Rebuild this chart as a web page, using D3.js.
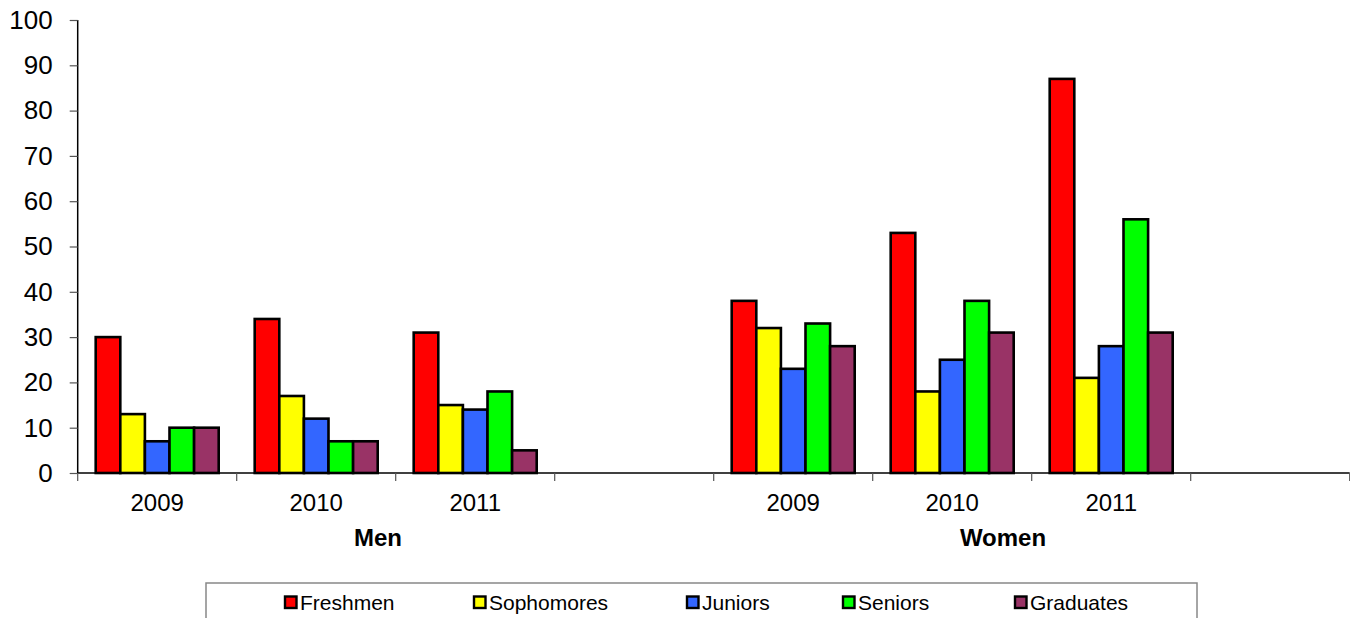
<!DOCTYPE html>
<html><head><meta charset="utf-8">
<script src="https://cdn.jsdelivr.net/npm/d3@7"></script>
<style>body{margin:0;background:#fff}svg{display:block;font-family:Arial,"Liberation Sans",sans-serif}</style>
</head><body><svg id="c" width="1350" height="618"></svg>
<script>
const slots = ["M2009","M2010","M2011","Mgap","W2009","W2010","W2011","Wgap"];
const slotLabels = ["2009","2010","2011","","2009","2010","2011",""];
const groups = ["Men","Women"];
const series = ["Freshmen","Sophomores","Juniors","Seniors","Graduates"];
const colors = ["#FF0000","#FFFF00","#3366FF","#00FF00","#993366"];
const freshmen   = [30,34,31,null,38,53,87,null];
const sophomores = [13,17,15,null,32,18,21,null];
const juniors    = [7,12,14,null,23,25,28,null];
const seniors    = [10,7,18,null,33,38,56,null];
const graduates  = [10,7,5,null,28,31,31,null];
const yTicks = [0,10,20,30,40,50,60,70,80,90,100];

const values = [freshmen,sophomores,juniors,seniors,graduates];
const svg = d3.select("#c");
const x0 = d3.scaleBand().domain(slots).range([77.7,1349.7]).padding(0);
const x1 = d3.scaleBand().domain(series).range([18, x0.bandwidth()-18]).padding(0);
const y = d3.scaleLinear().domain([0,100]).range([473,20]);

// bars
slots.forEach((s,i)=>{
  series.forEach((ser,j)=>{
    const v = values[j][i];
    if(v==null) return;
    svg.append("rect")
      .attr("x", x0(s)+x1(ser))
      .attr("y", y(v))
      .attr("width", x1.bandwidth())
      .attr("height", y(0)-y(v))
      .attr("fill", colors[j])
      .attr("stroke","#000").attr("stroke-width",2.6);
  });
});

// y axis
const ya = svg.append("g").attr("transform","translate(77.7,0)")
  .call(d3.axisLeft(y).tickValues(yTicks).tickSize(8).tickPadding(17));
ya.select(".domain").attr("stroke","#000").attr("stroke-width",1.5).attr("d","M0,20V473");
ya.selectAll(".tick line").attr("stroke","#555").attr("stroke-width",1.2);
ya.selectAll("text").attr("font-size",26).attr("fill","#000").attr("font-family","Arial, 'Liberation Sans', sans-serif");

// x axis
const xa = svg.append("g").attr("transform","translate(0,473)");
xa.append("line").attr("x1",77.7).attr("x2",1349.7).attr("y1",0).attr("y2",0).attr("stroke","#000").attr("stroke-width",1.5);
const bounds = slots.map(s=>x0(s)).concat([x0(slots[slots.length-1])+x0.bandwidth()]);
xa.selectAll("line.tk").data(bounds).join("line").attr("class","tk")
  .attr("x1",d=>d).attr("x2",d=>d).attr("y1",0).attr("y2",8).attr("stroke","#555").attr("stroke-width",1.2);
xa.selectAll("text.lbl").data(slots).join("text").attr("class","lbl")
  .attr("x",d=>x0(d)+x0.bandwidth()/2).attr("y",38)
  .attr("text-anchor","middle").attr("font-size",24).text((d,i)=>slotLabels[i]);

// group labels
const groupX = [378, 1003];
svg.selectAll("text.grp").data(groups).join("text").attr("class","grp")
  .attr("x",(d,i)=>groupX[i]).attr("y",546).attr("text-anchor","middle")
  .attr("font-size",24).attr("font-weight","bold").text(d=>d);

// legend
svg.append("rect").attr("x",206).attr("y",583).attr("width",991).attr("height",50)
  .attr("fill","#fff").attr("stroke","#888").attr("stroke-width",1.5);
const legX = [285, 474, 687, 843, 1015];
series.forEach((s,j)=>{
  svg.append("rect").attr("x",legX[j]).attr("y",596.5).attr("width",11.5).attr("height",11.5)
    .attr("fill",colors[j]).attr("stroke","#000").attr("stroke-width",2.4);
  svg.append("text").attr("x",legX[j]+15).attr("y",609.5).attr("font-size",21).text(s);
});
</script></body></html>
